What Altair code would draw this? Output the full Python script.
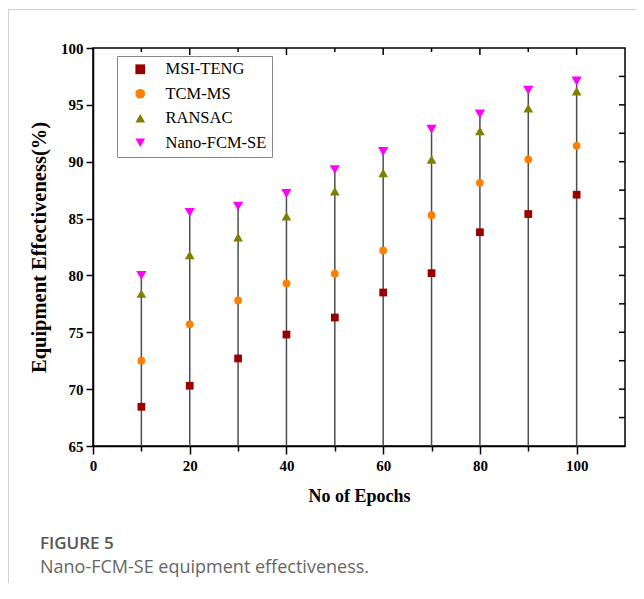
import altair as alt
import pandas as pd

epochs = [10, 20, 30, 40, 50, 60, 70, 80, 90, 100]
msi_teng = [68.45, 70.3, 72.7, 74.8, 76.3, 78.5, 80.2, 83.8, 85.4, 87.1]
tcm_ms = [72.5, 75.7, 77.8, 79.3, 80.15, 82.2, 85.3, 88.15, 90.2, 91.4]
ransac = [78.4, 81.8, 83.35, 85.2, 87.4, 89.0, 90.2, 92.7, 94.7, 96.2]
nano_fcm_se = [80.0, 85.55, 86.1, 87.2, 89.3, 90.9, 92.85, 94.2, 96.3, 97.1]

series_names = ["MSI-TENG", "TCM-MS", "RANSAC", "Nano-FCM-SE"]
series_colors = ["#9b0000", "#ff8000", "#808000", "#ff00ff"]
series_shapes = ["square", "circle", "triangle-up", "triangle-down"]
series_sizes = [60, 60, 95, 105]

x_ticks = [0, 10, 20, 30, 40, 50, 60, 70, 80, 90, 100]
y_ticks = [65, 67.5, 70, 72.5, 75, 77.5, 80, 82.5, 85, 87.5, 90, 92.5, 95, 97.5, 100]
top_major = [20, 40, 60, 80, 100]
top_minor = [10, 30, 50, 70, 90]
right_ticks = [67.5, 70, 72.5, 75, 77.5, 80, 82.5, 85, 87.5, 90, 92.5, 95, 97.5]

caption_title = "FIGURE 5"
caption_text = "Nano-FCM-SE equipment effectiveness."

W, H = 532, 398

rows = []
for name, vals, sz in zip(series_names, [msi_teng, tcm_ms, ransac, nano_fcm_se], series_sizes):
    for e, v in zip(epochs, vals):
        rows.append({"epoch": e, "value": v, "series": name, "sz": sz})
df = pd.DataFrame(rows)
drops = pd.DataFrame({"epoch": epochs, "top": nano_fcm_se})

xs = alt.Scale(domain=[0, 110], nice=False, zero=False)
ys = alt.Scale(domain=[65, 100], nice=False, zero=False)

serif = "Liberation Serif"

x_axis = alt.Axis(
    values=x_ticks,
    labelExpr="datum.value % 20 === 0 ? datum.label : ''",
    tickSize={"condition": {"test": "datum.value % 20 === 0", "value": 8}, "value": 5},
    labelFlush=False,
    grid=False,
    title="No of Epochs",
    titleFont=serif, titleFontSize=18, titleFontWeight="bold", titleColor="black",
    titlePadding=14,
    labelFont=serif, labelFontSize=15, labelFontWeight="bold", labelColor="black",
    labelPadding=4,
    domainColor="black", domainWidth=1.5, tickColor="black", tickWidth=1.5,
)
y_axis = alt.Axis(
    values=y_ticks,
    labelExpr="datum.value % 5 === 0 ? datum.label : ''",
    tickSize={"condition": {"test": "datum.value % 5 === 0", "value": 7}, "value": 4},
    labelFlush=False,
    labelOverlap=False,
    grid=False,
    title="Equipment Effectiveness(%)",
    titleFont=serif, titleFontSize=20.5, titleFontWeight="bold", titleColor="black",
    titlePadding=11,
    labelFont=serif, labelFontSize=15, labelFontWeight="bold", labelColor="black",
    labelPadding=3,
    domainColor="black", domainWidth=1.5, tickColor="black", tickWidth=1.5,
)

drop_lines = alt.Chart(drops).mark_rule(color="#4d4d4d", strokeWidth=1.5).encode(
    x=alt.X("epoch:Q", scale=xs, axis=x_axis),
    y=alt.Y("top:Q", scale=ys, axis=y_axis),
    y2=alt.datum(65),
)

points = alt.Chart(df).mark_point(filled=True, opacity=1).encode(
    x=alt.X("epoch:Q", scale=xs),
    y=alt.Y("value:Q", scale=ys),
    color=alt.Color("series:N", scale=alt.Scale(domain=series_names, range=series_colors),
                    legend=alt.Legend(title=None)),
    shape=alt.Shape("series:N", scale=alt.Scale(domain=series_names, range=series_shapes),
                    legend=alt.Legend(title=None)),
    size=alt.Size("sz:Q", scale=None, legend=None),
)

top_maj = alt.Chart(pd.DataFrame({"t": top_major})).mark_rule(color="black", strokeWidth=1.5).encode(
    x=alt.X("t:Q", scale=xs), y=alt.value(0), y2=alt.value(7))
top_min = alt.Chart(pd.DataFrame({"t": top_minor})).mark_rule(color="black", strokeWidth=1.5).encode(
    x=alt.X("t:Q", scale=xs), y=alt.value(0), y2=alt.value(4))
right_t = alt.Chart(pd.DataFrame({"t": right_ticks})).mark_rule(color="black", strokeWidth=1.5).encode(
    y=alt.Y("t:Q", scale=ys), x=alt.value(W - 6), x2=alt.value(W))

cap1 = alt.Chart(pd.DataFrame({"t": [caption_title]})).mark_text(
    align="left", baseline="alphabetic", font="Open Sans", fontSize=17, fontWeight=600, color="#555555"
).encode(text="t:N", x=alt.value(-53), y=alt.value(501))
cap2 = alt.Chart(pd.DataFrame({"t": [caption_text]})).mark_text(
    align="left", baseline="alphabetic", font="Open Sans", fontSize=18, color="#666666"
).encode(text="t:N", x=alt.value(-53), y=alt.value(525))

border = pd.DataFrame({"k": [0]})
border_left = alt.Chart(border).mark_rule(color="#d0d0d0", strokeWidth=1).encode(
    x=alt.value(-84.5), y=alt.value(-39), y2=alt.value(535))
border_top = alt.Chart(border).mark_rule(color="#d0d0d0", strokeWidth=1).encode(
    x=alt.value(-84.5), x2=alt.value(543), y=alt.value(-38.5))

chart = alt.layer(
    border_left, border_top, drop_lines, top_maj, top_min, right_t, points, cap1, cap2
).properties(
    width=W, height=H,
    autosize=alt.AutoSizeParams(type="none"),
    padding={"left": 85, "top": 40, "right": 11, "bottom": 145},
).configure_view(
    stroke="black", strokeWidth=1.5
).configure_legend(
    orient="none", legendX=24, legendY=8,
    strokeColor="#888888", fillColor="white", padding=5,
    labelFont=serif, labelFontSize=16.5, labelColor="black",
    symbolSize=95, symbolOffset=10, labelOffset=17, rowPadding=7.5,
    symbolStrokeWidth=0,
)

chart.save("out.html", embed_options={"renderer": "svg", "actions": False})
